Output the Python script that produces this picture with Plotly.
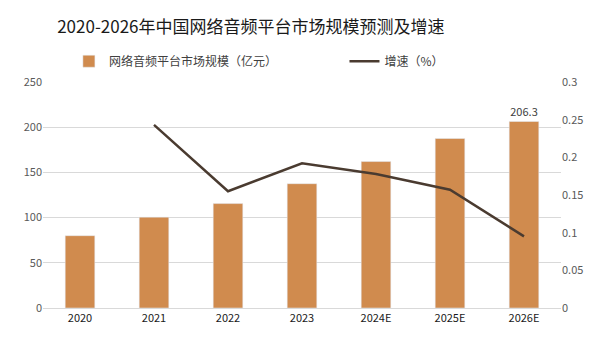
import plotly.graph_objects as go

categories = ["2020", "2021", "2022", "2023", "2024E", "2025E", "2026E"]
market_size = [80.0, 100.5, 115.5, 137.5, 162.0, 187.5, 206.3]
growth_categories = ["2021", "2022", "2023", "2024E", "2025E", "2026E"]
growth_rate = [0.243, 0.155, 0.192, 0.178, 0.157, 0.095]
bar_labels = ["", "", "", "", "", "", "206.3"]

FONT = "Noto Sans CJK SC"

fig = go.Figure()
fig.add_trace(go.Bar(
    x=categories, y=market_size, name="网络音频平台市场规模（亿元）",
    marker=dict(color="#D08B4E"), width=0.4,
    text=bar_labels, textposition="outside", cliponaxis=False,
    textfont=dict(size=11, color="#404040", family=FONT),
    legend="legend", showlegend=True,
))
fig.add_trace(go.Scatter(
    x=growth_categories, y=growth_rate, name="增速（%）", yaxis="y2",
    mode="lines", line=dict(color="#4A3B30", width=2.5),
    legend="legend2", showlegend=True,
))

legend_style = dict(orientation="h", xanchor="left", y=1.092, yanchor="middle",
                    font=dict(size=12, color="#404040", family=FONT),
                    bgcolor="rgba(0,0,0,0)")

fig.update_layout(
    width=603, height=337,
    margin=dict(l=43, r=42, t=82, b=27),
    paper_bgcolor="white", plot_bgcolor="white",
    showlegend=True,
    font=dict(family=FONT, color="#595959", size=11),
    title=dict(text="2020-2026年中国网络音频平台市场规模预测及增速",
               x=0.416, xanchor="center", y=1 - 27 / 337, yanchor="middle",
               font=dict(size=17, color="#1a1a1a", family=FONT)),
    legend=dict(x=0.05, visible=True, **legend_style),
    legend2=dict(x=0.582, visible=True, **legend_style),
    xaxis=dict(type="category", showline=True, linecolor="#d9d9d9", linewidth=1,
               ticks="", tickfont=dict(size=11, color="#1a1a1a"), showgrid=False),
    yaxis=dict(range=[0, 250], dtick=50, showgrid=True, gridcolor="#d9d9d9",
               zeroline=False, ticks="", tickfont=dict(size=11, color="#595959")),
    yaxis2=dict(range=[0, 0.3], dtick=0.05, overlaying="y", side="right",
                showgrid=False, zeroline=False, ticks="",
                tickfont=dict(size=11, color="#595959"), tickformat="~g"),
    bargap=0.6,
)

fig.write_html("out.html")
